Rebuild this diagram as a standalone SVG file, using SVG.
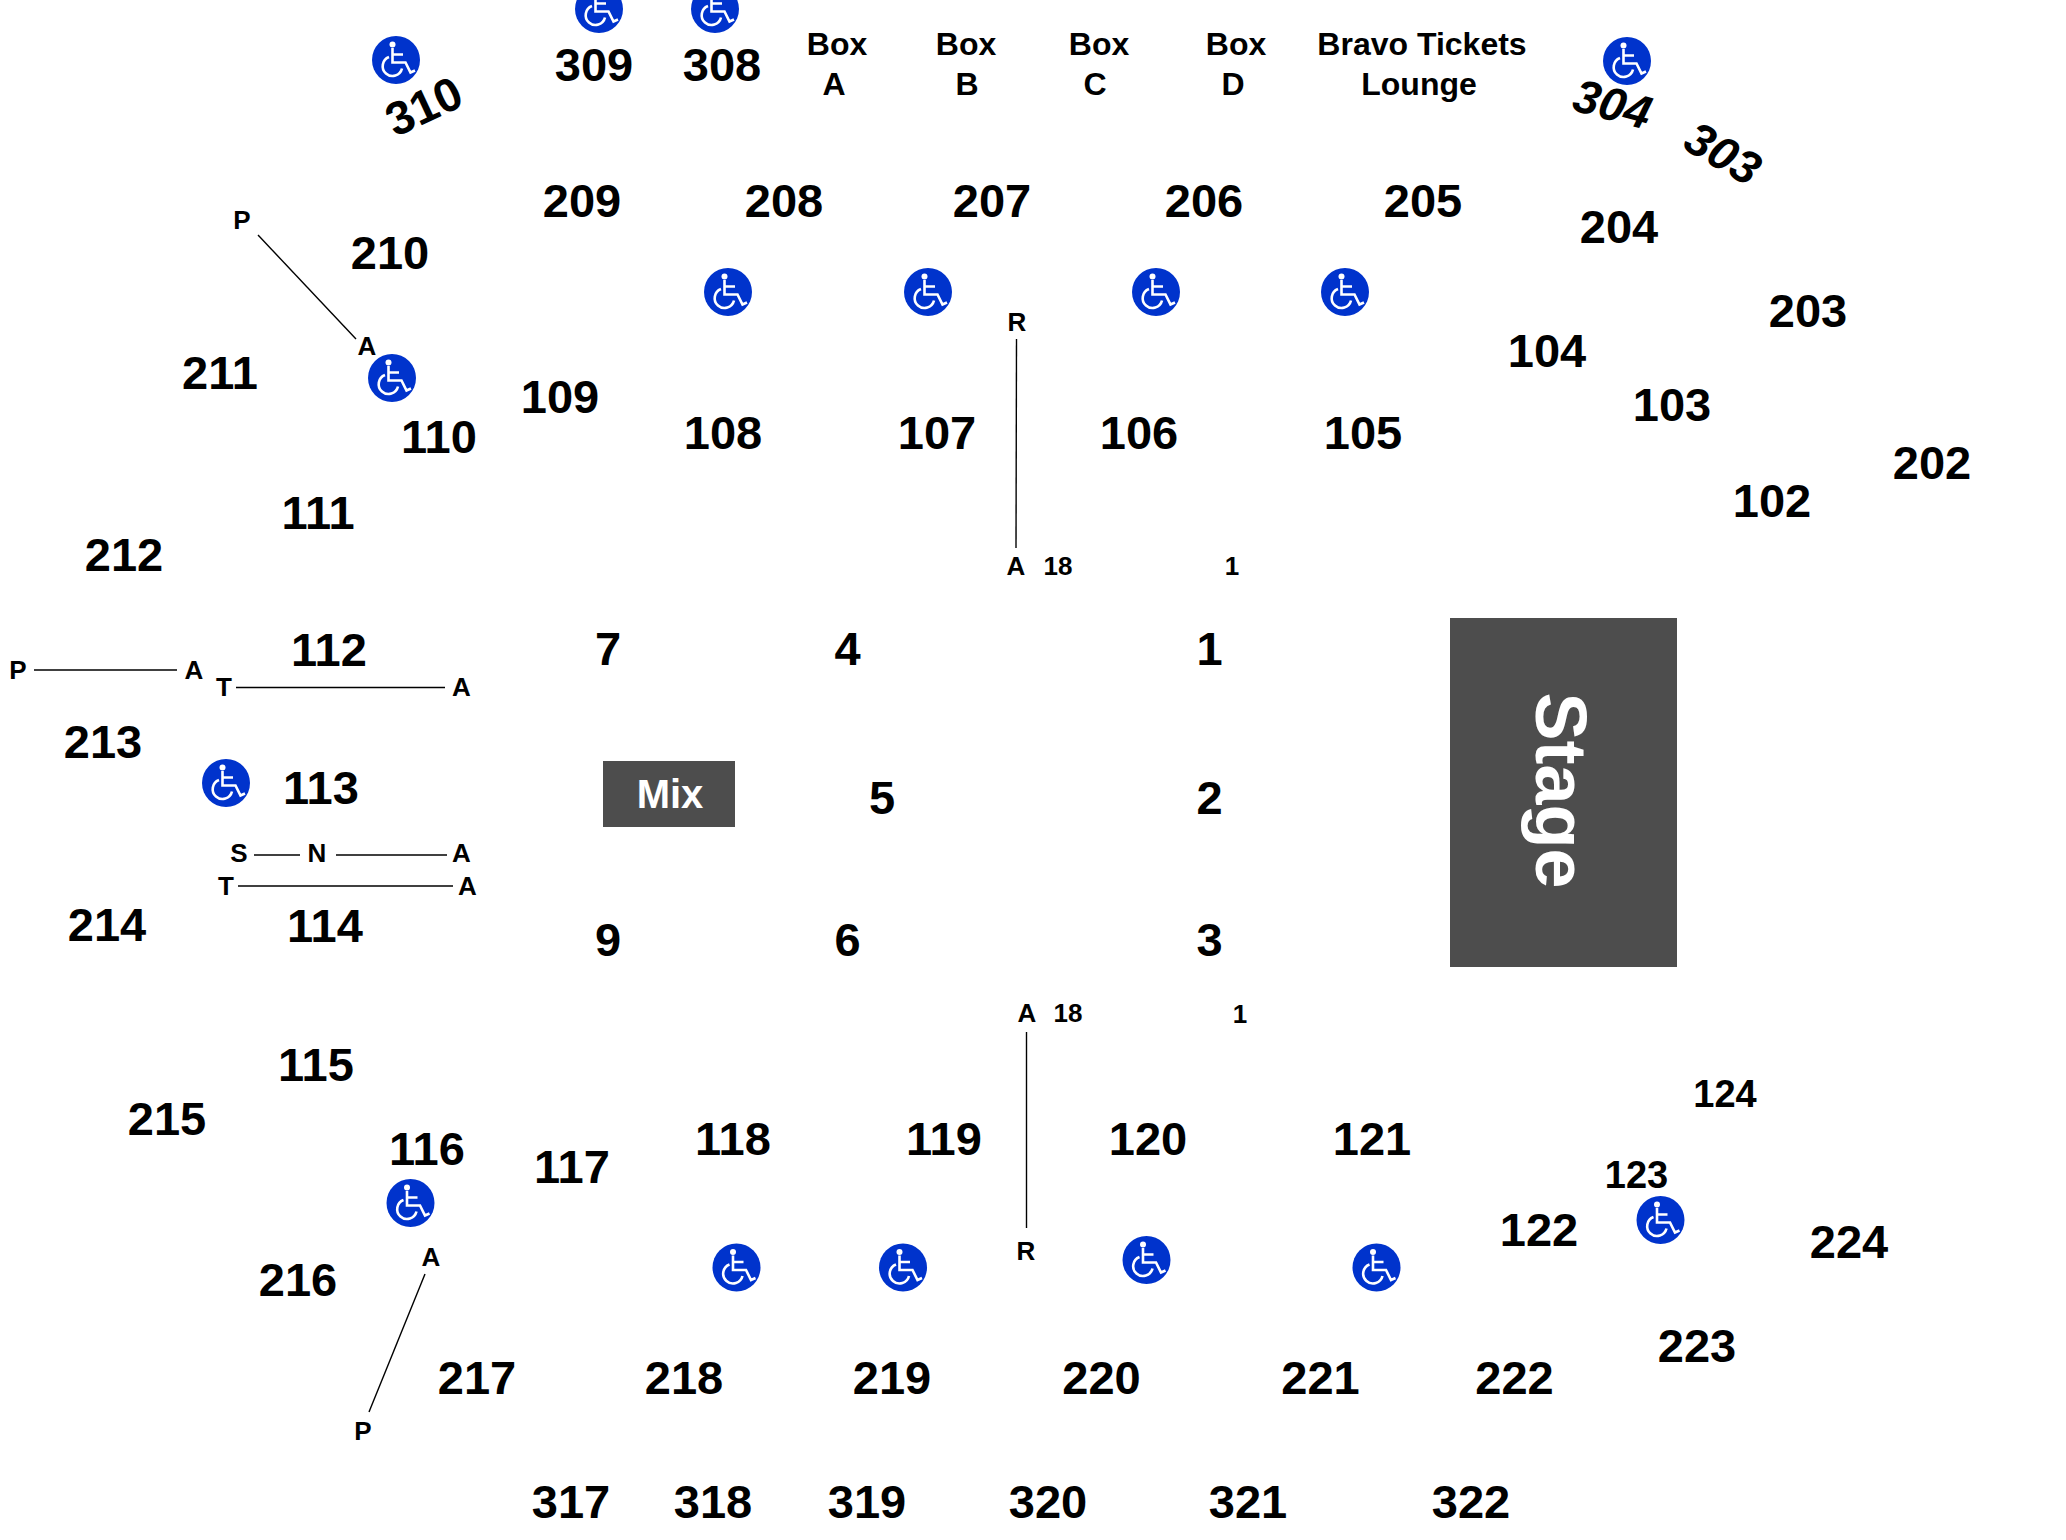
<svg xmlns="http://www.w3.org/2000/svg" xmlns:xlink="http://www.w3.org/1999/xlink" width="2066" height="1540" viewBox="0 0 2066 1540">
<style>
text{font-family:"Liberation Sans",Arial,sans-serif;font-weight:700;fill:#000;text-anchor:middle}
.n{font-size:47px}
.m{font-size:38px}
.b{font-size:32px}
.s{font-size:26px}
.w{fill:#fff}
.i{font-style:italic}
line{stroke:#000;stroke-width:1.4}
.r{fill:#4d4d4d}
</style>
<defs>
<g id="wc">
<circle r="24" fill="#0033cc"/>
<circle cx="-3.5" cy="-15.500" r="3" fill="#fff"/>
<path d="M-3.500-12V2.500H9.500L14.500 12.500L19 10.500M-3.500-5.500H7" fill="none" stroke="#fff" stroke-width="2.600"/>
<path d="M-7-3A9.800 9.800 0 1 0 6 8.500" fill="none" stroke="#fff" stroke-width="2.600"/>
</g>
</defs>
<rect width="2066" height="1540" fill="#fff"/>
<g id="connectors">
<line x1="258" y1="235" x2="356" y2="339"/>
<line x1="34" y1="670" x2="177" y2="670"/>
<line x1="236" y1="687.500" x2="445" y2="687.500"/>
<line x1="254" y1="855" x2="300" y2="855"/>
<line x1="336" y1="855" x2="447" y2="855"/>
<line x1="238" y1="886" x2="453" y2="886"/>
<line x1="1016.500" y1="339" x2="1016" y2="548"/>
<line x1="1026.500" y1="1032" x2="1026.500" y2="1228"/>
<line x1="425" y1="1274" x2="369" y2="1412"/>
</g>
<g id="stage"><rect class="r" x="1450" y="618" width="227" height="349"/><text class="w" transform="translate(1536 790.500) rotate(90)" style="font-size:72px">Stage</text></g>
<g id="mix"><rect class="r" x="603" y="761" width="132" height="66"/><text class="w" x="670" y="808" style="font-size:40px">Mix</text></g>
<g id="accessible">
<use href="#wc" x="396" y="60"/><use href="#wc" x="599" y="9"/><use href="#wc" x="715" y="9"/><use href="#wc" x="1627" y="61"/>
<use href="#wc" x="728" y="292"/><use href="#wc" x="928" y="292"/><use href="#wc" x="1156" y="292"/><use href="#wc" x="1345" y="292"/>
<use href="#wc" x="392" y="378"/><use href="#wc" x="226" y="783"/><use href="#wc" x="410.500" y="1203"/>
<use href="#wc" x="736.500" y="1267.500"/><use href="#wc" x="903" y="1267.500"/><use href="#wc" x="1146.500" y="1260"/><use href="#wc" x="1376.500" y="1267.500"/><use href="#wc" x="1660.500" y="1220"/>
</g>
<g id="sections" transform="translate(0 0.500)">
<g id="s310"><text class="n" transform="translate(424 106) rotate(-25)" y="16">310</text></g>
<g id="s309"><text class="n" x="594" y="80">309</text></g>
<g id="s308"><text class="n" x="722" y="80">308</text></g>
<g id="s304"><text class="n i" transform="translate(1612.500 104) rotate(15)" y="16">304</text></g>
<g id="s303"><text class="n i" transform="translate(1723 153) rotate(30)" y="16">303</text></g>
<g id="s209"><text class="n" x="582" y="216">209</text></g>
<g id="s208"><text class="n" x="784" y="216">208</text></g>
<g id="s207"><text class="n" x="992" y="216">207</text></g>
<g id="s206"><text class="n" x="1204" y="216">206</text></g>
<g id="s205"><text class="n" x="1423" y="216">205</text></g>
<g id="s204"><text class="n" x="1619" y="242">204</text></g>
<g id="s203"><text class="n" x="1808" y="326">203</text></g>
<g id="s202"><text class="n" x="1932" y="478">202</text></g>
<g id="s210"><text class="n" x="390" y="268">210</text></g>
<g id="s211"><text class="n" x="220" y="388">211</text></g>
<g id="s212"><text class="n" x="124" y="570">212</text></g>
<g id="s213"><text class="n" x="103" y="757">213</text></g>
<g id="s214"><text class="n" x="107" y="940">214</text></g>
<g id="s215"><text class="n" x="167" y="1134">215</text></g>
<g id="s216"><text class="n" x="298" y="1295">216</text></g>
<g id="s217"><text class="n" x="477" y="1393">217</text></g>
<g id="s218"><text class="n" x="684" y="1393">218</text></g>
<g id="s219"><text class="n" x="892" y="1393">219</text></g>
<g id="s220"><text class="n" x="1101.500" y="1393">220</text></g>
<g id="s221"><text class="n" x="1320.500" y="1393">221</text></g>
<g id="s222"><text class="n" x="1514.500" y="1393">222</text></g>
<g id="s223"><text class="n" x="1697" y="1361">223</text></g>
<g id="s224"><text class="n" x="1849" y="1257">224</text></g>
<g id="s104"><text class="n" x="1547" y="366">104</text></g>
<g id="s103"><text class="n" x="1672" y="420">103</text></g>
<g id="s102"><text class="n" x="1772" y="516">102</text></g>
<g id="s105"><text class="n" x="1363" y="448">105</text></g>
<g id="s106"><text class="n" x="1139" y="448">106</text></g>
<g id="s107"><text class="n" x="937" y="448">107</text></g>
<g id="s108"><text class="n" x="723" y="448">108</text></g>
<g id="s109"><text class="n" x="560" y="412">109</text></g>
<g id="s110"><text class="n" x="439" y="452">110</text></g>
<g id="s111"><text class="n" x="318" y="528">111</text></g>
<g id="s112"><text class="n" x="329" y="665">112</text></g>
<g id="s113"><text class="n" x="321" y="803">113</text></g>
<g id="s114"><text class="n" x="325" y="941">114</text></g>
<g id="s115"><text class="n" x="316" y="1080">115</text></g>
<g id="s116"><text class="n" x="427" y="1164">116</text></g>
<g id="s117"><text class="n" x="572" y="1182">117</text></g>
<g id="s118"><text class="n" x="733" y="1154">118</text></g>
<g id="s119"><text class="n" x="944" y="1154">119</text></g>
<g id="s120"><text class="n" x="1148" y="1154">120</text></g>
<g id="s121"><text class="n" x="1372" y="1154">121</text></g>
<g id="s122"><text class="n" x="1539" y="1245">122</text></g>
<g id="s123"><text class="m" x="1636.500" y="1187">123</text></g>
<g id="s124"><text class="m" x="1725" y="1106">124</text></g>
<g id="f7"><text class="n" x="608" y="664">7</text></g>
<g id="f4"><text class="n" x="847.500" y="664">4</text></g>
<g id="f1"><text class="n" x="1209.500" y="664">1</text></g>
<g id="f5"><text class="n" x="882" y="813">5</text></g>
<g id="f2"><text class="n" x="1209.500" y="813">2</text></g>
<g id="f9"><text class="n" x="608" y="955">9</text></g>
<g id="f6"><text class="n" x="847.500" y="955">6</text></g>
<g id="f3"><text class="n" x="1209.500" y="955">3</text></g>
<g id="s317"><text class="n" x="571" y="1517">317</text></g>
<g id="s318"><text class="n" x="713" y="1517">318</text></g>
<g id="s319"><text class="n" x="867" y="1517">319</text></g>
<g id="s320"><text class="n" x="1048" y="1517">320</text></g>
<g id="s321"><text class="n" x="1248" y="1517">321</text></g>
<g id="s322"><text class="n" x="1471" y="1517">322</text></g>
</g>
<g id="boxA"><text class="b" x="837" y="55">Box</text><text class="b" x="834" y="95">A</text></g>
<g id="boxB"><text class="b" x="966" y="55">Box</text><text class="b" x="967" y="95">B</text></g>
<g id="boxC"><text class="b" x="1099" y="55">Box</text><text class="b" x="1095" y="95">C</text></g>
<g id="boxD"><text class="b" x="1236" y="55">Box</text><text class="b" x="1233" y="95">D</text></g>
<g id="lounge"><text class="b" x="1422" y="55">Bravo Tickets</text><text class="b" x="1419" y="95">Lounge</text></g>
<g id="row-labels">
<text class="s" x="242" y="229">P</text><text class="s" x="367" y="355">A</text>
<text class="s" x="18" y="679">P</text><text class="s" x="194" y="679">A</text>
<text class="s" x="224" y="696">T</text><text class="s" x="461.500" y="696">A</text>
<text class="s" x="239" y="862">S</text><text class="s" x="317" y="862">N</text><text class="s" x="461.500" y="862">A</text>
<text class="s" x="226" y="895">T</text><text class="s" x="467.500" y="895">A</text>
<text class="s" x="1017" y="331">R</text><text class="s" x="1016" y="575">A</text>
<text class="s" x="1058" y="574.500">18</text><text class="s" x="1232" y="574.500">1</text>
<text class="s" x="1027" y="1022">A</text><text class="s" x="1068" y="1022">18</text><text class="s" x="1240" y="1023">1</text>
<text class="s" x="1026" y="1260">R</text>
<text class="s" x="431" y="1265.500">A</text><text class="s" x="363" y="1440">P</text>
</g>
</svg>
